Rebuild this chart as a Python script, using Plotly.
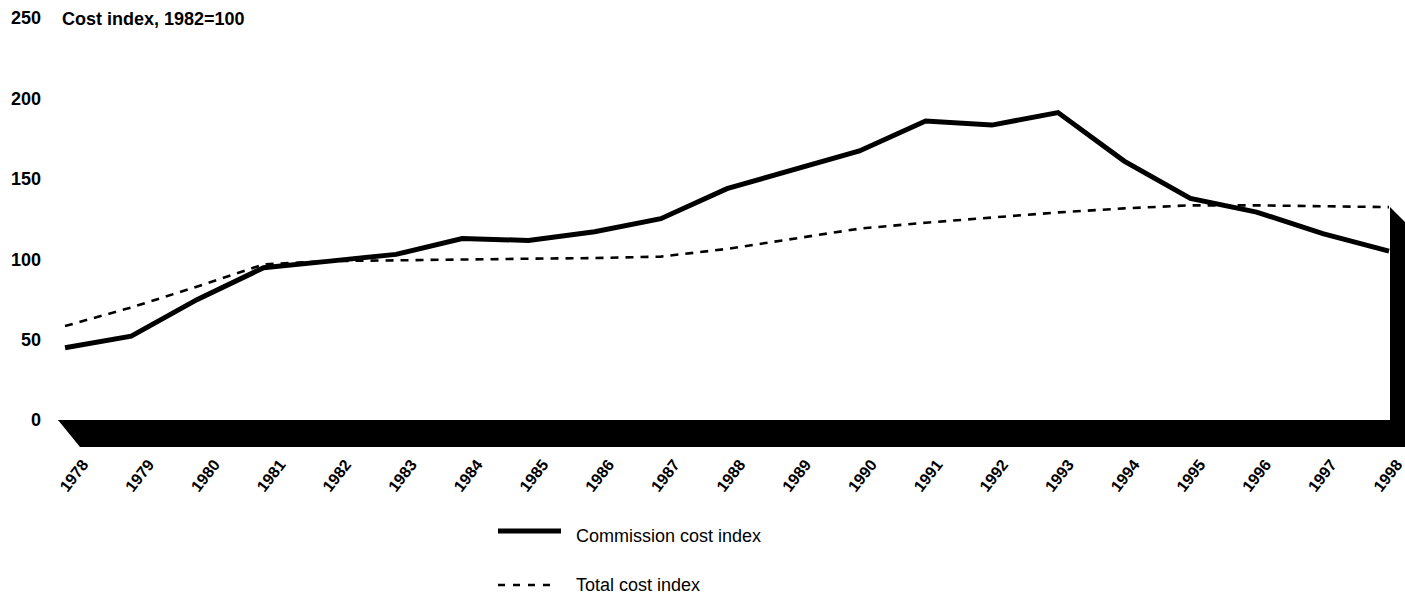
import plotly.graph_objects as go

# Series data
years = list(range(1978, 1999))
commission_index = [44.9, 52.1, 75.0, 94.7, 98.8, 103.0, 112.8, 111.7, 117.1, 125.2,
                    143.9, 155.9, 167.3, 185.9, 183.4, 191.2, 161.0, 137.8, 129.3, 115.9, 105.0]
total_index = [58.4, 70.0, 83.0, 96.8, 98.8, 99.4, 99.9, 100.3, 100.7, 101.6,
               106.4, 112.8, 119.0, 122.7, 125.8, 129.1, 131.6, 133.5, 133.5, 133.0, 132.4]
y_ticks = [0, 50, 100, 150, 200, 250]
series_names = ["Commission cost index", "Total cost index"]
y_title = "Cost index, 1982=100"

W, H = 1405, 594
L, R, T, B = 58, 15, 18, 174
PW, PH = W - L - R, H - T - B
FONT = "Arial, 'Liberation Sans', sans-serif"


def px(x):
    return (x - L) / PW


def py(y):
    return (H - B - y) / PH


fig = go.Figure()
fig.add_trace(go.Scatter(x=years, y=total_index, mode="lines", name=series_names[1],
                         line=dict(color="black", width=2.6, dash="8px,7px"),
                         showlegend=False))
fig.add_trace(go.Scatter(x=years, y=commission_index, mode="lines", name=series_names[0],
                         line=dict(color="black", width=5),
                         showlegend=False))
# empty carrier so the label axis along the floor's front edge gets drawn
fig.add_trace(go.Scatter(x=years, y=[None] * len(years), xaxis="x2", mode="lines",
                         hoverinfo="skip", showlegend=False))

# 3-D style floor and side wall
floor = [(58, 420), (1390, 420), (1390, 207), (1405, 222), (1405, 447), (80, 447)]
path = "M " + " L ".join(f"{px(a):.5f},{py(b):.5f}" for a, b in floor) + " Z"
shapes = [
    dict(type="path", path=path, xref="paper", yref="paper",
         fillcolor="black", line=dict(width=0), layer="above"),
]

# Legend drawn by hand
shapes += [
    dict(type="line", xref="paper", yref="paper", x0=px(498), x1=px(561), y0=py(531), y1=py(531),
         line=dict(color="black", width=5)),
    dict(type="line", xref="paper", yref="paper", x0=px(498), x1=px(551), y0=py(585), y1=py(585),
         line=dict(color="black", width=2.6, dash="7px,8px")),
]
annotations = [
    dict(text=series_names[0], xref="paper", yref="paper", x=px(574), y=py(536),
         xanchor="left", yanchor="middle", showarrow=False,
         font=dict(family=FONT, size=18, color="black")),
    dict(text=series_names[1], xref="paper", yref="paper", x=px(574), y=py(585),
         xanchor="left", yanchor="middle", showarrow=False,
         font=dict(family=FONT, size=18, color="black")),
    dict(text="<b>" + y_title + "</b>", xref="paper", yref="paper", x=px(60), y=py(19),
         xanchor="left", yanchor="middle", showarrow=False,
         font=dict(family=FONT, size=18, color="black")),
]

fig.update_layout(
    width=W, height=H,
    margin=dict(l=L, r=R, t=T, b=B, autoexpand=False),
    paper_bgcolor="white", plot_bgcolor="white",
    shapes=shapes, annotations=annotations,
    font=dict(family=FONT, color="black"),
    xaxis=dict(range=[1977.894, 1998.015], showticklabels=False,
               showgrid=False, zeroline=False, showline=True, linecolor="#888", linewidth=1,
               ticks=""),
    # year labels sit along the front edge of the floor
    xaxis2=dict(overlaying="x", side="bottom", anchor="y", range=[1977.8326, 1998.107],
                tickmode="array", tickvals=years, ticktext=[str(y) for y in years],
                tickangle=-52, tickfont=dict(family=FONT, size=16, weight="bold"),
                showgrid=False, zeroline=False, showline=False, ticks="",
                ticklabelstandoff=31, ticklabelshift=14, ticklabeloverflow="allow"),
    yaxis=dict(range=[0, 250], tickmode="array", tickvals=y_ticks,
               tickfont=dict(family=FONT, size=18, weight="bold"),
               showgrid=False, zeroline=False, showline=False, ticks="",
               ticklabelstandoff=16),
)

fig.write_html("out.html")
